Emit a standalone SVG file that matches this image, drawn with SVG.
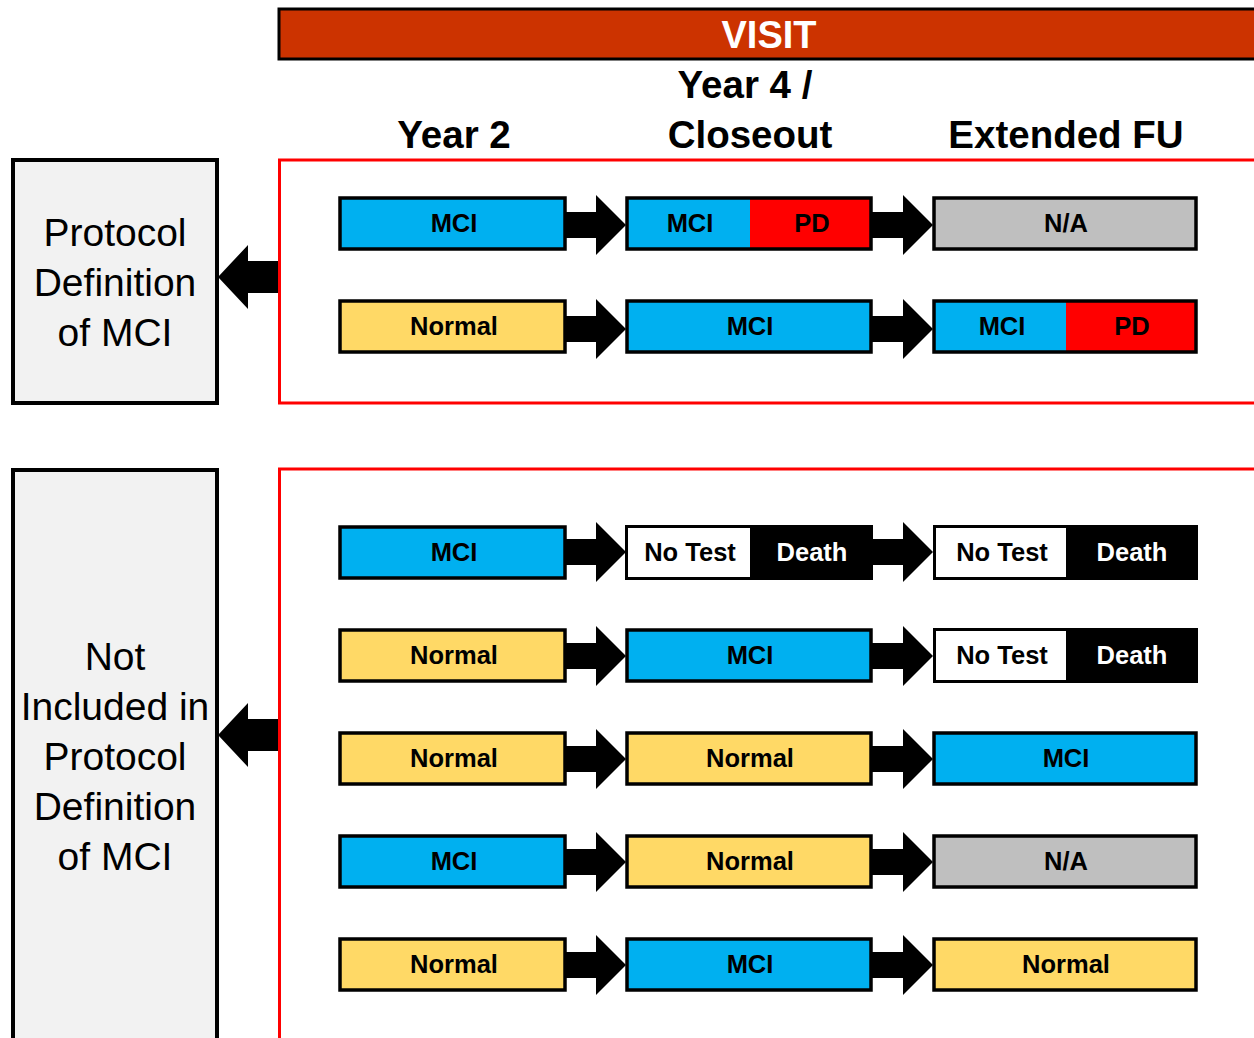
<svg xmlns="http://www.w3.org/2000/svg" xmlns:xlink="http://www.w3.org/1999/xlink" width="1254" height="1038" viewBox="0 0 1254 1038">
<style>
.box{stroke:#000;stroke-width:3.5}
.blue{fill:#00B0F0}.yel{fill:#FFD966}.gray{fill:#BFBFBF}.red{fill:#FF0000}.wht{fill:#FFFFFF}.blk{fill:#000}
.lbl{font-family:"Liberation Sans",Arial,sans-serif;font-weight:bold;font-size:25.5px;text-anchor:middle;fill:#000}
.lblw{fill:#fff}
.hd{font-family:"Liberation Sans",Arial,sans-serif;font-weight:bold;font-size:38.5px;text-anchor:middle;fill:#000}
.side{font-family:"Liberation Sans",Arial,sans-serif;font-size:39px;text-anchor:middle;fill:#000}
.sidebox{fill:#F2F2F2;stroke:#000;stroke-width:4}
.frame{fill:none;stroke:#FF0000;stroke-width:3}
</style>
<defs>
<path id="arr" d="M0,-13 H31 V-30 L61,0 L31,30 V13 H0 Z" fill="#000"/>
<path id="larr" d="M60,-16 H30 V-32 L0,0 L30,32 V16 H60 Z" fill="#000"/>
</defs>

<g id="visit">
<rect x="279" y="9" width="980" height="50" fill="#CC3300" stroke="#000" stroke-width="3"/>
<text x="769" y="48" font-family="Liberation Sans,Arial,sans-serif" font-weight="bold" font-size="38" fill="#fff" text-anchor="middle">VISIT</text>
</g>

<g id="headers">
<text class="hd" x="454" y="148">Year 2</text>
<text class="hd" x="745" y="98">Year 4 /</text>
<text class="hd" x="750" y="148">Closeout</text>
<text class="hd" x="1066" y="148">Extended FU</text>
</g>

<g id="frames">
<path class="frame" d="M1260,160 H279.5 V403 H1260"/>
<path class="frame" d="M1260,469 H279.5 V1045"/>
</g>

<g id="protocol-box">
<rect class="sidebox" x="13" y="160" width="204" height="243"/>
<text class="side" x="115" y="246">Protocol</text>
<text class="side" x="115" y="296">Definition</text>
<text class="side" x="115" y="346">of MCI</text>
</g>

<g id="not-included-box">
<rect class="sidebox" x="13" y="470" width="204" height="580"/>
<text class="side" x="115" y="670">Not</text>
<text class="side" x="115" y="720">Included in</text>
<text class="side" x="115" y="770">Protocol</text>
<text class="side" x="115" y="820">Definition</text>
<text class="side" x="115" y="870">of MCI</text>
</g>

<g id="connectors">
<use xlink:href="#larr" x="218" y="277"/>
<use xlink:href="#larr" x="218" y="735"/>
<use xlink:href="#arr" x="565" y="225"/><use xlink:href="#arr" x="872" y="225"/>
<use xlink:href="#arr" x="565" y="329"/><use xlink:href="#arr" x="872" y="329"/>
<use xlink:href="#arr" x="565" y="552"/><use xlink:href="#arr" x="872" y="552"/>
<use xlink:href="#arr" x="565" y="656"/><use xlink:href="#arr" x="872" y="656"/>
<use xlink:href="#arr" x="565" y="759"/><use xlink:href="#arr" x="872" y="759"/>
<use xlink:href="#arr" x="565" y="862"/><use xlink:href="#arr" x="872" y="862"/>
<use xlink:href="#arr" x="565" y="965"/><use xlink:href="#arr" x="872" y="965"/>
</g>

<!-- Row 1 -->
<g id="r1c1"><rect class="box blue" x="340" y="198" width="225" height="51"/><text class="lbl" x="454" y="232">MCI</text></g>
<g id="r1c2"><rect class="blue" x="627" y="198" width="123" height="51"/><rect class="red" x="750" y="198" width="121" height="51"/><rect class="box" fill="none" x="627" y="198" width="244" height="51"/><text class="lbl" x="690" y="232">MCI</text><text class="lbl" x="812" y="232">PD</text></g>
<g id="r1c3"><rect class="box gray" x="934" y="198" width="262" height="51"/><text class="lbl" x="1066" y="232">N/A</text></g>

<!-- Row 2 -->
<g id="r2c1"><rect class="box yel" x="340" y="301" width="225" height="51"/><text class="lbl" x="454" y="335">Normal</text></g>
<g id="r2c2"><rect class="box blue" x="627" y="301" width="244" height="51"/><text class="lbl" x="750" y="335">MCI</text></g>
<g id="r2c3"><rect class="blue" x="934" y="301" width="132" height="51"/><rect class="red" x="1066" y="301" width="130" height="51"/><rect class="box" fill="none" x="934" y="301" width="262" height="51"/><text class="lbl" x="1002" y="335">MCI</text><text class="lbl" x="1132" y="335">PD</text></g>

<!-- Row 3 -->
<g id="r3c1"><rect class="box blue" x="340" y="527" width="225" height="51"/><text class="lbl" x="454" y="561">MCI</text></g>
<g id="r3c2"><rect class="blk" x="625" y="525" width="248" height="55"/><rect class="wht" x="628" y="528" width="122" height="49"/><text class="lbl" x="690" y="561">No Test</text><text class="lbl lblw" x="812" y="561">Death</text></g>
<g id="r3c3"><rect class="blk" x="933" y="525" width="265" height="55"/><rect class="wht" x="936" y="528" width="130" height="49"/><text class="lbl" x="1002" y="561">No Test</text><text class="lbl lblw" x="1132" y="561">Death</text></g>

<!-- Row 4 -->
<g id="r4c1"><rect class="box yel" x="340" y="630" width="225" height="51"/><text class="lbl" x="454" y="664">Normal</text></g>
<g id="r4c2"><rect class="box blue" x="627" y="630" width="244" height="51"/><text class="lbl" x="750" y="664">MCI</text></g>
<g id="r4c3"><rect class="blk" x="933" y="628" width="265" height="55"/><rect class="wht" x="936" y="631" width="130" height="49"/><text class="lbl" x="1002" y="664">No Test</text><text class="lbl lblw" x="1132" y="664">Death</text></g>

<!-- Row 5 -->
<g id="r5c1"><rect class="box yel" x="340" y="733" width="225" height="51"/><text class="lbl" x="454" y="767">Normal</text></g>
<g id="r5c2"><rect class="box yel" x="627" y="733" width="244" height="51"/><text class="lbl" x="750" y="767">Normal</text></g>
<g id="r5c3"><rect class="box blue" x="934" y="733" width="262" height="51"/><text class="lbl" x="1066" y="767">MCI</text></g>

<!-- Row 6 -->
<g id="r6c1"><rect class="box blue" x="340" y="836" width="225" height="51"/><text class="lbl" x="454" y="870">MCI</text></g>
<g id="r6c2"><rect class="box yel" x="627" y="836" width="244" height="51"/><text class="lbl" x="750" y="870">Normal</text></g>
<g id="r6c3"><rect class="box gray" x="934" y="836" width="262" height="51"/><text class="lbl" x="1066" y="870">N/A</text></g>

<!-- Row 7 -->
<g id="r7c1"><rect class="box yel" x="340" y="939" width="225" height="51"/><text class="lbl" x="454" y="973">Normal</text></g>
<g id="r7c2"><rect class="box blue" x="627" y="939" width="244" height="51"/><text class="lbl" x="750" y="973">MCI</text></g>
<g id="r7c3"><rect class="box yel" x="934" y="939" width="262" height="51"/><text class="lbl" x="1066" y="973">Normal</text></g>
</svg>
